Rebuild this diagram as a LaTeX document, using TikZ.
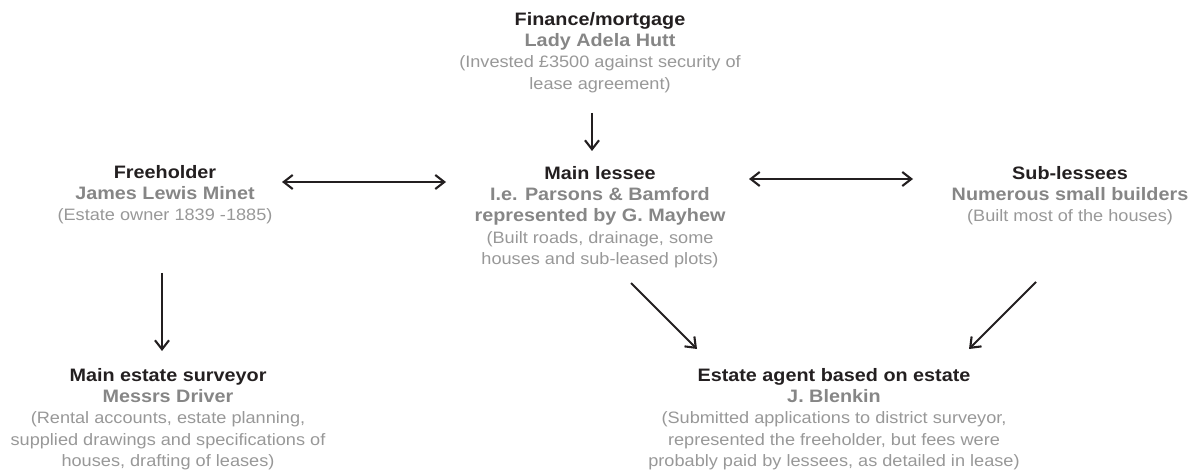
\documentclass[tikz,border=0pt]{standalone}
\usepackage{fontspec}
\setmainfont{Liberation Sans}[FakeStretch=1.1]
\usetikzlibrary{arrows.meta}

\definecolor{ttlc}{HTML}{231F20}
\definecolor{nmc}{HTML}{868686}
\definecolor{dscc}{HTML}{989898}
\definecolor{arrc}{HTML}{231F20}

% three text levels: role, name, description
\newcommand\roleline[1]{{\fontsize{18}{21.3}\selectfont\bfseries\color{ttlc}\rule{0pt}{14pt}#1}}
\newcommand\nameline[1]{{\fontsize{18}{21.3}\selectfont\bfseries\color{nmc}#1}}
\newcommand\descline[1]{{\color{dscc}#1}}

\begin{document}
\begin{tikzpicture}[x=1pt,y=-1pt,
  blk/.style={anchor=north, inner sep=0pt, align=center,
    font=\fontsize{16.5}{21.3}\selectfont},
  tip/.style={Straight Barb[length=9pt,width=14pt,line width=2.1pt]},
  arr/.style={draw=arrc, line width=2.1pt, -{Straight Barb[length=9pt,width=14pt]}},
  darr/.style={draw=arrc, line width=2.1pt,
    {Straight Barb[length=9pt,width=14pt]}-{Straight Barb[length=9pt,width=14pt]}}]
\useasboundingbox (0,0) rectangle (1199,470);

% parties (node north = first baseline - 14)
\node[blk] (finance) at (600,11) {\roleline{Finance/mortgage}\\
  \nameline{Lady Adela Hutt}\\
  \descline{(Invested £3500 against security of}\\
  \descline{lease agreement)}};

\node[blk] (freeholder) at (165,164) {\roleline{Freeholder}\\
  \nameline{James Lewis Minet}\\
  \descline{(Estate owner 1839 -1885)}};

\node[blk] (lessee) at (600,165) {\roleline{Main lessee}\\
  \nameline{I.e. Parsons \& Bamford}\\
  \nameline{represented by G. Mayhew}\\
  \descline{(Built roads, drainage, some}\\
  \descline{houses and sub-leased plots)}};

\node[blk] (sublessees) at (1070,165) {\roleline{Sub-lessees}\\
  \nameline{Numerous small builders}\\
  \descline{(Built most of the houses)}};

\node[blk] (surveyor) at (168,367) {\roleline{Main estate surveyor}\\
  \nameline{Messrs Driver}\\
  \descline{(Rental accounts, estate planning,}\\
  \descline{supplied drawings and specifications of}\\
  \descline{houses, drafting of leases)}};

\node[blk] (agent) at (834,367) {\roleline{Estate agent based on estate}\\
  \nameline{J. Blenkin}\\
  \descline{(Submitted applications to district surveyor,}\\
  \descline{represented the freeholder, but fees were}\\
  \descline{probably paid by lessees, as detailed in lease)}};

% connector end points
\coordinate (finance-out) at (592,113);
\coordinate (lessee-top) at (592,151);
\coordinate (freeholder-east) at (282,182);
\coordinate (lessee-west) at (446,182);
\coordinate (lessee-east) at (749,179);
\coordinate (sublessees-west) at (913,179);
\coordinate (freeholder-out) at (162,273);
\coordinate (surveyor-top) at (162,351);
\coordinate (lessee-out) at (631,283);
\coordinate (agent-left) at (697,349);
\coordinate (sublessees-out) at (1036,282);
\coordinate (agent-right) at (969,349);

% connectors
\draw[arr] (finance-out) -- (lessee-top);
\draw[darr] (freeholder-east) -- (lessee-west);
\draw[darr] (lessee-east) -- (sublessees-west);
\draw[arr] (freeholder-out) -- (surveyor-top);
\draw[arr] (lessee-out) -- (agent-left);
\draw[arr] (sublessees-out) -- (agent-right);
\end{tikzpicture}
\end{document}
